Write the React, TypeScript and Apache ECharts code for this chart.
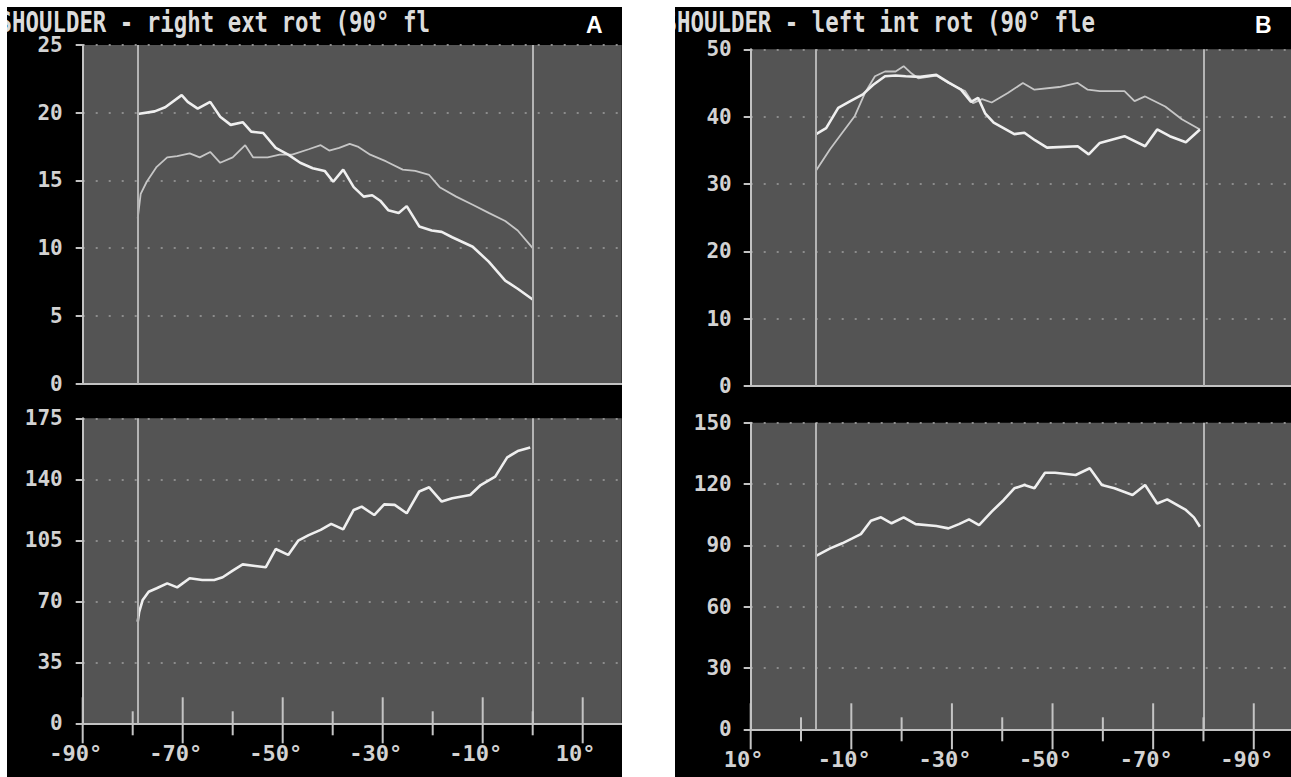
import React, { useEffect, useRef } from "react";
import * as echarts from "echarts";

// ---- data (angle in degrees, value) ----
const aUpperLine1: [number, number][] = [
  [-79, 19.9], [-75.6, 20.1], [-73.5, 20.4], [-70.2, 21.3], [-69, 20.8], [-67, 20.3], [-64.5, 20.8],
  [-62.5, 19.7], [-60.4, 19.1], [-58, 19.3], [-56.3, 18.6], [-53.9, 18.5], [-51.4, 17.4], [-48.9, 16.9],
  [-46.5, 16.3], [-44, 15.9], [-41.6, 15.7], [-39.9, 14.9], [-37.9, 15.8], [-35.8, 14.5], [-33.8, 13.8],
  [-32.1, 13.9], [-30.5, 13.5], [-28.9, 12.8], [-26.8, 12.6], [-25.2, 13.1], [-22.7, 11.6], [-20.2, 11.3],
  [-18.2, 11.2], [-16.1, 10.8], [-12, 10.1], [-8.8, 9.0], [-5.5, 7.6], [-3, 7.0], [0, 6.2],
];
const aUpperLine2: [number, number][] = [
  [-79, 12.2], [-78.4, 14.0], [-77.2, 14.9], [-75.2, 16.0], [-73.1, 16.7], [-71.1, 16.8], [-68.6, 17.0],
  [-66.6, 16.7], [-64.5, 17.1], [-62.5, 16.3], [-60, 16.7], [-57.5, 17.6], [-55.9, 16.7], [-53, 16.7],
  [-50.6, 16.9], [-48.1, 16.9], [-44.8, 17.3], [-42.4, 17.6], [-40.7, 17.2], [-38.7, 17.4], [-36.6, 17.7],
  [-35, 17.5], [-32.5, 16.9], [-29.3, 16.4], [-26, 15.8], [-23.5, 15.7], [-20.7, 15.4], [-18.6, 14.5],
  [-15.3, 13.8], [-12, 13.2], [-8.8, 12.6], [-5.5, 12.0], [-3, 11.3], [0, 10.0],
];
const aLowerLine: [number, number][] = [
  [-79, 58.3], [-78.7, 64], [-78, 70.8], [-76.8, 75.5], [-75.2, 77.5], [-73.1, 80.3], [-71.1, 78],
  [-68.6, 83.2], [-66.1, 82.2], [-63.7, 82.2], [-62, 83.8], [-60, 87.6], [-58, 91.2], [-55.5, 90.3],
  [-53.4, 89.5], [-51.4, 100], [-48.9, 96.6], [-46.9, 104.8], [-44.8, 108], [-42.4, 111], [-40.3, 114.4],
  [-37.9, 111.3], [-35.8, 122.4], [-34.2, 124.3], [-31.7, 119.5], [-29.7, 125.6], [-27.6, 125.3],
  [-25.2, 120.5], [-22.7, 133], [-20.7, 135.4], [-18.2, 127.2], [-16.1, 129.1], [-12.5, 131],
  [-10.4, 136.7], [-7.5, 141.5], [-5.1, 152.6], [-3, 156.2], [-0.5, 158.3],
];
const bUpperLine1: [number, number][] = [
  [-3, 37.4], [-5, 38.3], [-7.4, 41.3], [-9.8, 42.3], [-12.3, 43.3], [-14.3, 44.7], [-16.7, 46],
  [-18.8, 46.1], [-20.8, 46], [-23.7, 45.9], [-26.9, 46.2], [-29.3, 45.1], [-31.8, 44], [-33.8, 42.2],
  [-35.2, 42.8], [-36.6, 40.5], [-38.3, 39.1], [-42.4, 37.4], [-44.4, 37.6], [-46.5, 36.5], [-48.9, 35.4],
  [-55, 35.6], [-57.2, 34.4], [-59.4, 36.1], [-64.3, 37.1], [-68.4, 35.6], [-70.8, 38.1], [-73.3, 37.1],
  [-76.5, 36.2], [-79.3, 38.1],
];
const bUpperLine2: [number, number][] = [
  [-3, 32], [-5.8, 35.2], [-8.2, 37.6], [-10.7, 40.1], [-12.7, 43.5], [-14.7, 46], [-16.7, 46.7],
  [-18.8, 46.7], [-20.4, 47.5], [-22, 46.4], [-23.3, 45.7], [-26.9, 46.1], [-29.3, 45], [-32.6, 43.8],
  [-34.2, 42], [-36, 42.6], [-37.9, 42.1], [-41.1, 43.5], [-44.1, 45], [-46.4, 44], [-51.3, 44.4],
  [-55, 45], [-57, 44], [-59.4, 43.8], [-64.3, 43.8], [-66.3, 42.3], [-68.4, 43], [-72.4, 41.5],
  [-75.7, 39.6], [-79.3, 38.1],
];
const bLowerLine: [number, number][] = [
  [-3, 84.8], [-5.8, 88.5], [-8.2, 91], [-10.2, 93.4], [-11.9, 95.5], [-13.9, 102], [-15.9, 103.7],
  [-18, 100.8], [-20.4, 103.7], [-22.8, 100.4], [-26.9, 99.5], [-29.3, 98.3], [-31.4, 100.4],
  [-33.4, 102.7], [-35.4, 99.9], [-37.9, 106.5], [-40.3, 112.2], [-42.4, 117.9], [-44.4, 119.5],
  [-46.4, 117.9], [-48.5, 125.5], [-50.5, 125.5], [-54.6, 124.4], [-57.4, 127.7], [-59.8, 119.5],
  [-62.3, 117.9], [-65.9, 114.6], [-68.4, 119.5], [-70.8, 110.5], [-72.8, 112.5], [-76.5, 107.3],
  [-78.1, 103.7], [-79.3, 99.1],
];

const aMarkers = [-79, 0];
const bMarkers = [-3, -80];
const aTicks = [-90, -80, -70, -60, -50, -40, -30, -20, -10, 0, 10];
const bTicks = [10, 0, -10, -20, -30, -40, -50, -60, -70, -80, -90];
const aLabelTicks = [-90, -70, -50, -30, -10, 10];
const bLabelTicks = [10, -10, -30, -50, -70, -90];
const titles = ["SHOULDER - right ext rot (90° fl", "SHOULDER - left int rot (90° fle"];
const panelLetters = ["A", "B"];

const MONO = '"DejaVu Sans Mono", "Liberation Mono", monospace';
const AXIS = "#c2c2c2";
const PLOT_BG = "#545454";

// Panel B's angle axis runs from +10° (left) toward -97° (right): plot it on a
// mirrored scale (position = -angle) and print the real angle in the labels.
const mirror = (pts: [number, number][]): [number, number][] => pts.map(([x, y]) => [-x, y]);

function yAxis(gridIndex: number, min: number, max: number, interval: number, margin: number) {
  return {
    type: "value",
    gridIndex,
    min,
    max,
    interval,
    axisLine: { show: true, onZero: false, lineStyle: { color: AXIS, width: 2 } },
    axisTick: { show: true, length: 7, lineStyle: { color: AXIS, width: 2 } },
    axisLabel: {
      color: "#d2d2d2",
      fontFamily: MONO,
      fontWeight: "bold",
      fontSize: 21,
      margin,
      padding: [12, 0, 0, 0],
    },
    splitLine: { show: true, lineStyle: { color: "#8c8c8c", type: [2, 11], width: 2 } },
  };
}

function xAxis(gridIndex: number, min: number, max: number, sign: number, labels: number[] | null) {
  return {
    type: "value",
    gridIndex,
    min,
    max,
    interval: 10,
    axisLine: { show: true, onZero: false, lineStyle: { color: AXIS, width: 2 } },
    axisTick: { show: false },
    splitLine: { show: false },
    axisLabel: labels
      ? {
          show: true,
          color: "#d2d2d2",
          fontFamily: MONO,
          fontWeight: "bold",
          fontSize: 22,
          margin: 19,
          padding: [0, 14, 0, 0],
          showMinLabel: true,
          showMaxLabel: true,
          formatter: (v: number) => {
            const a = Math.round(v) * sign;
            return labels.includes(a) ? `${a}°` : "";
          },
        }
      : { show: false },
  };
}

function markerLine(values: number[]) {
  return {
    silent: true,
    symbol: ["none", "none"],
    label: { show: false },
    lineStyle: { color: "#b4b4b4", width: 2, type: "solid" },
    data: values.map((v) => ({ xAxis: v })),
  };
}

function lineSeries(data: [number, number][], idx: number, bright: boolean, markers?: number[]) {
  const s: any = {
    type: "line",
    xAxisIndex: idx,
    yAxisIndex: idx,
    data,
    showSymbol: false,
    symbol: "none",
    smooth: false,
    lineStyle: { color: bright ? "#efefef" : "#c6c6c6", width: bright ? 2.6 : 1.8 },
    z: bright ? 4 : 3,
  };
  if (markers) s.markLine = markerLine(markers);
  return s;
}

function tickSeries(ticks: number[], labeled: number[], idx: number, sign: number) {
  return {
    type: "custom",
    xAxisIndex: idx,
    yAxisIndex: idx,
    silent: true,
    clip: false,
    z: 5,
    data: ticks.map((v) => [v * sign, 0]),
    renderItem: (_params: any, api: any) => {
      const v = api.value(0);
      const p = api.coord([v, 0]);
      const long = labeled.includes(Math.round(v) * sign);
      return {
        type: "line",
        shape: { x1: p[0], y1: p[1] - (long ? 26 : 12), x2: p[0], y2: p[1] + (long ? 20 : 12) },
        style: { stroke: "#c4c4c4", lineWidth: 2 },
      };
    },
  };
}

export default function App() {
  const ref = useRef<HTMLDivElement>(null);

  useEffect(() => {
    document.body.style.margin = "0";
    document.body.style.background = "#ffffff";
    if (!ref.current) return;
    const chart = echarts.init(ref.current, undefined, { renderer: "svg" });

    const g = { show: true, backgroundColor: PLOT_BG, borderWidth: 0, outerBoundsMode: "none" };
    const option: any = {
      animation: false,
      backgroundColor: "transparent",
      grid: [
        { ...g, left: 82.7, top: 45, width: 539, height: 338.5 },
        { ...g, left: 82.7, top: 418.3, width: 539, height: 305 },
        { ...g, left: 750.7, top: 49.3, width: 540.3, height: 336.7 },
        { ...g, left: 750.7, top: 422.7, width: 540.3, height: 306.6 },
      ],
      xAxis: [
        xAxis(0, -90, 17.8, 1, null),
        xAxis(1, -90, 17.8, 1, aLabelTicks),
        xAxis(2, -10, 97.4, -1, null),
        xAxis(3, -10, 97.4, -1, bLabelTicks),
      ],
      yAxis: [
        yAxis(0, 0, 25, 5, 20),
        yAxis(1, 0, 175, 35, 20),
        yAxis(2, 0, 50, 10, 19),
        yAxis(3, 0, 150, 30, 19),
      ],
      series: [
        lineSeries(aUpperLine2, 0, false, aMarkers),
        lineSeries(aUpperLine1, 0, true),
        lineSeries(aLowerLine, 1, true, aMarkers),
        tickSeries(aTicks, aLabelTicks, 1, 1),
        lineSeries(mirror(bUpperLine2), 2, false, bMarkers.map((v) => -v)),
        lineSeries(mirror(bUpperLine1), 2, true),
        lineSeries(mirror(bLowerLine), 3, true, bMarkers.map((v) => -v)),
        tickSeries(bTicks, bLabelTicks, 3, -1),
      ],
      graphic: [
        {
          type: "text", z: 50, silent: true, x: -1.5, y: 22, scaleX: 0.8,
          style: { text: titles[0], fill: "#dcdcdc", font: `bold 28px ${MONO}`, verticalAlign: "middle", align: "left" },
        },
        {
          type: "text", z: 50, silent: true, x: 663.5, y: 22, scaleX: 0.8,
          style: { text: titles[1], fill: "#dcdcdc", font: `bold 28px ${MONO}`, verticalAlign: "middle", align: "left" },
        },
        { type: "rect", z: 100, silent: true, shape: { x: 0, y: 0, width: 7, height: 777 }, style: { fill: "#fff" } },
        { type: "rect", z: 100, silent: true, shape: { x: 622, y: 0, width: 53, height: 777 }, style: { fill: "#fff" } },
        {
          type: "text", z: 60, silent: true, x: 586, y: 13,
          style: { text: panelLetters[0], fill: "#ffffff", font: 'bold 23px "Liberation Sans", Arial, sans-serif', verticalAlign: "top" },
        },
        {
          type: "text", z: 60, silent: true, x: 1255, y: 13,
          style: { text: panelLetters[1], fill: "#ffffff", font: 'bold 23px "Liberation Sans", Arial, sans-serif', verticalAlign: "top" },
        },
      ],
    };

    chart.setOption(option);
    return () => chart.dispose();
  }, []);

  return (
    <div style={{ position: "relative", width: 1291, height: 777, background: "#ffffff", overflow: "hidden" }}>
      <div style={{ position: "absolute", left: 7, top: 7, width: 615, height: 770, background: "#000" }} />
      <div style={{ position: "absolute", left: 675, top: 7, width: 616, height: 770, background: "#000" }} />
      <div ref={ref} style={{ position: "absolute", left: 0, top: 0, width: 1291, height: 777 }} />
    </div>
  );
}
